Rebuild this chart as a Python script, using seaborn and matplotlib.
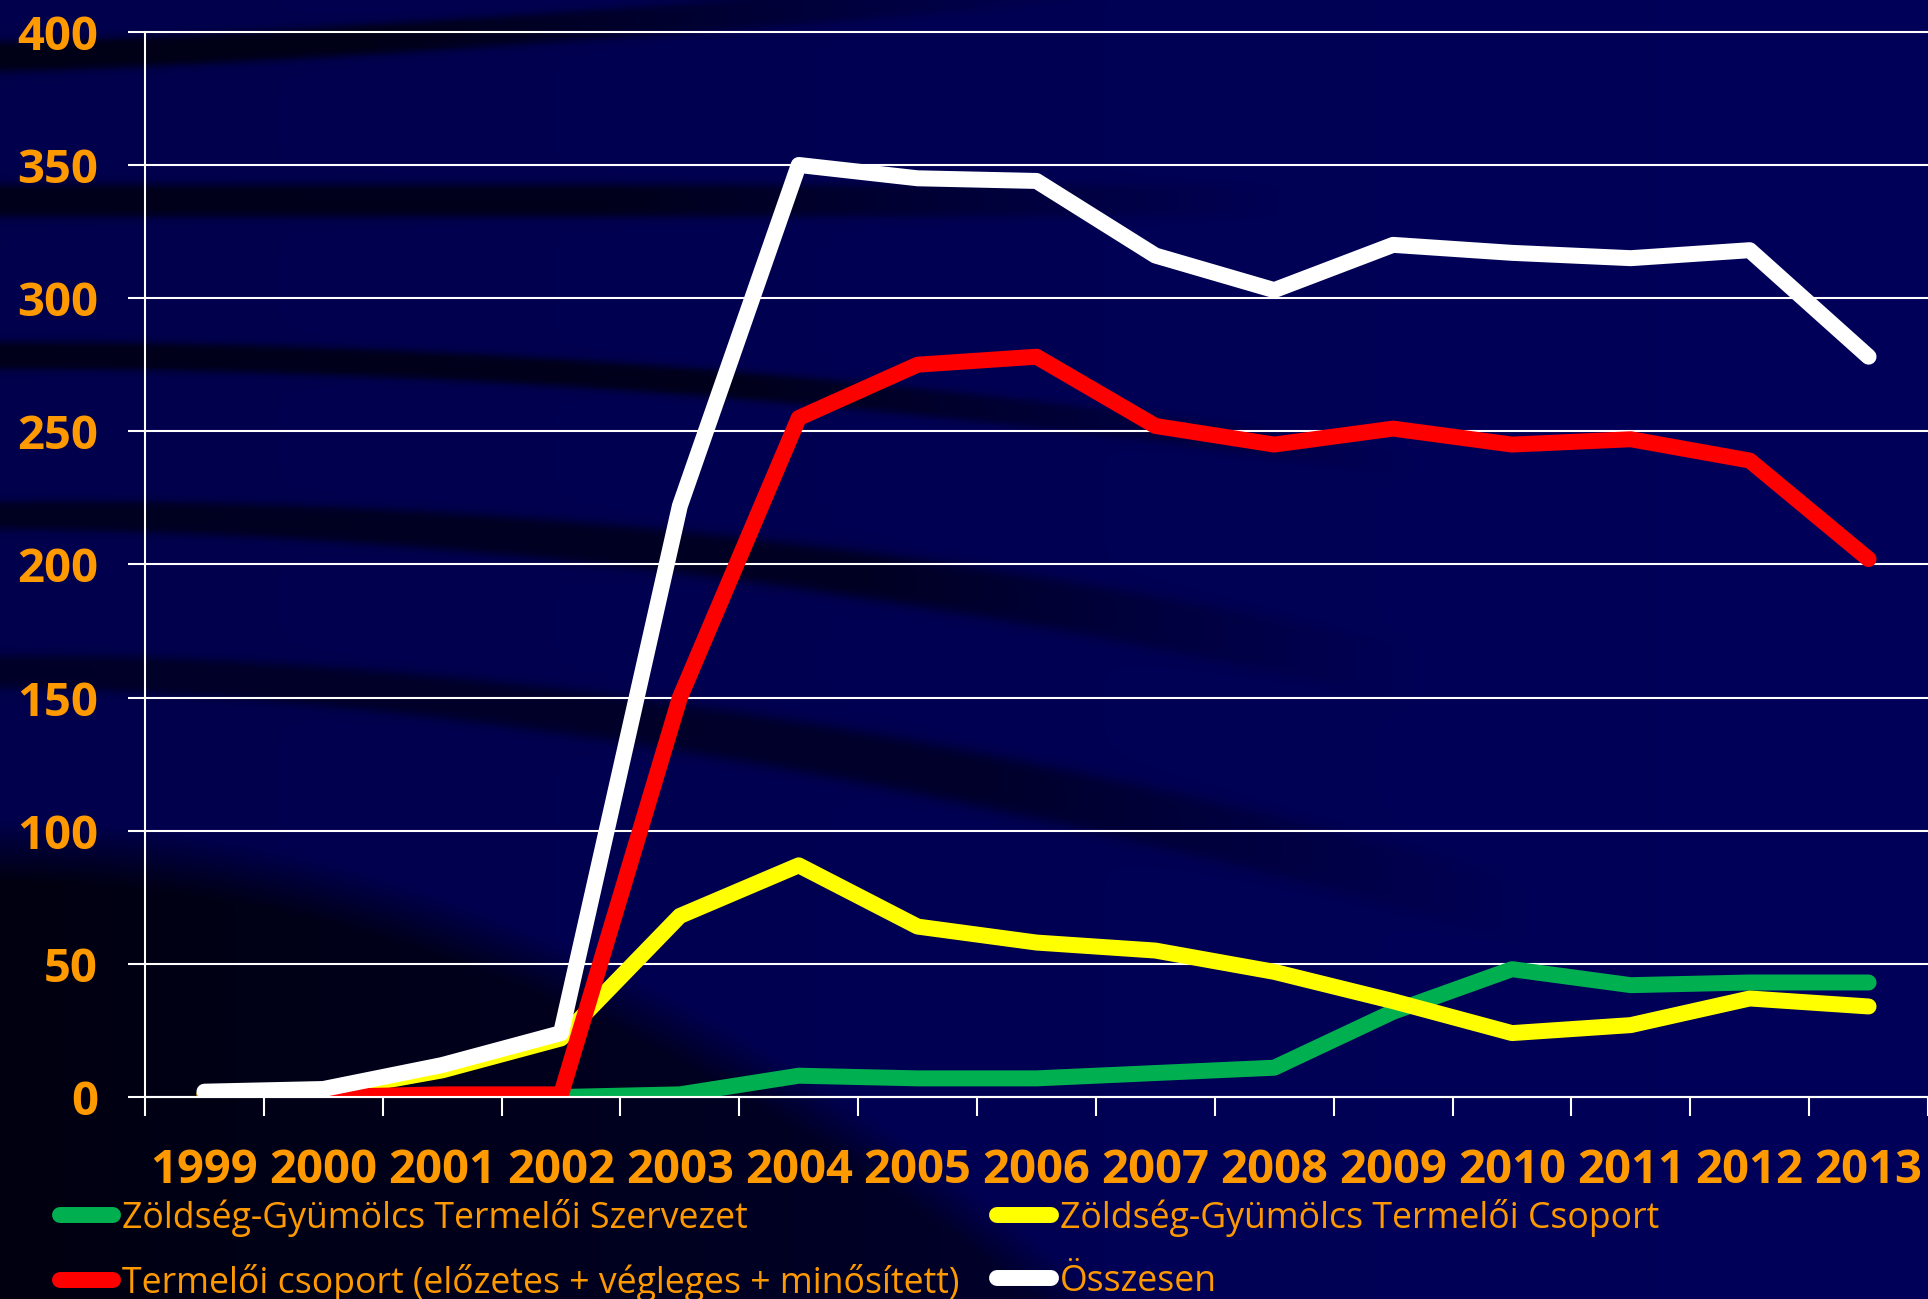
import numpy as np
import pandas as pd
import matplotlib
matplotlib.use("Agg")
import matplotlib.pyplot as plt
import seaborn as sns

# ---------------------------------------------
# DATA
# ---------------------------------------------
years = ["1999", "2000", "2001", "2002", "2003", "2004", "2005", "2006",
         "2007", "2008", "2009", "2010", "2011", "2012", "2013"]

zgy_szervezet    = [0, 0, 0, 0, 1, 8, 7, 7, 9, 11, 32, 48, 42, 43, 43]
zgy_csoport      = [1, 2, 10, 22, 68, 87, 64, 58, 55, 47, 36, 24, 27, 37, 34]
termeloi_csoport = [0, 0, 1, 1, 150, 255, 275, 278, 252, 245, 251, 245, 247, 239, 202]
osszesen         = [2, 3, 12, 24, 222, 350, 345, 344, 316, 303, 320, 317, 315, 318, 278]

series_names = ["Zöldség-Gyümölcs Termelői Szervezet",
                "Zöldség-Gyümölcs Termelői Csoport",
                "Termelői csoport (előzetes + végleges + minősített)",
                "Összesen"]
series_values = [zgy_szervezet, zgy_csoport, termeloi_csoport, osszesen]
series_colors = ["#00B050", "#FFFF00", "#FF0000", "#FFFFFF"]

y_ticks = [0, 50, 100, 150, 200, 250, 300, 350, 400]

BG     = "#00004F"
ORANGE = "#FF9900"

# ---------------------------------------------
# BACKGROUND  (slide-style dark swooshes)
# ---------------------------------------------
def slide_background(w=1568, h=1056, step=4):
    x = np.arange(0, w, step)[None, :].astype(float)
    y = np.arange(0, h, step)[:, None].astype(float)
    dark = np.zeros((y.size, x.size))

    def band(yc, half, x0, x1, k):
        fade = np.clip(1 - (x - x0) / (x1 - x0), 0, 1)
        prof = 1 / (1 + ((y - yc) / half) ** 8)
        return k * prof * fade

    dark = np.maximum(dark, band(44 - 50 * (x / 800) ** 1.3, 12, 300, 900, 0.8))
    dark = np.maximum(dark, band(161 + 0 * x, 13, 500, 1050, 0.75))
    dark = np.maximum(dark, band(287 + 55 * (x / 900) ** 2, 11, 600, 1150, 0.75))
    dark = np.maximum(dark, band(417 + 80 * (x / 900) ** 2, 11 + 10 * x / 900, 700, 1150, 0.65))
    dark = np.maximum(dark, band(544 + 110 * (x / 900) ** 1.8, 13 + 10 * x / 900, 800, 1250, 0.55))

    # large dark arc in the lower left corner
    edge = 665 + 390 * (x / 900) ** 2
    inside = np.clip((y - edge) / 50, 0, 1)
    depth = np.clip(1 - x / 1100, 0, 1)
    dark = np.maximum(dark, inside * (0.45 + 0.45 * depth))

    base = np.array([0, 0, 76]) + np.array([0, 0, 14]) * (x / w)[..., None]
    base = np.broadcast_to(base, (y.size, x.size, 3))
    shade = np.array([0, 0, 10])
    img = base * (1 - dark[..., None]) + shade * dark[..., None]
    return img / 255.0


# ---------------------------------------------
# STYLE
# ---------------------------------------------
sns.set_theme(style="ticks")
plt.rcParams["font.family"] = ["Open Sans", "DejaVu Sans"]

fig = plt.figure(figsize=(19.28, 12.99), dpi=100, facecolor=BG)

bg = fig.add_axes([0, 0, 1, 1], zorder=-5)
bg.imshow(slide_background(), extent=(0, 1568, 1056, 0), aspect="auto",
          interpolation="bilinear")
bg.set_xlim(0, 1568)
bg.set_ylim(1056, 0)
bg.axis("off")

# main axes
ax = fig.add_axes([0.0752, 0.1555, 0.9248, 0.82])
ax.set_facecolor("none")

df = pd.DataFrame({"year": years})
for name, vals, col in zip(series_names, series_values, series_colors):
    df[name] = vals
    sns.lineplot(data=df, x="year", y=name, ax=ax, color=col, linewidth=11.5,
                 label=name, solid_capstyle="round", solid_joinstyle="round",
                 sort=False)

ax.set_xlim(-0.5, len(years) - 0.5)
ax.set_ylim(0, 400)
ax.set_yticks(y_ticks)
ax.set_xticks(range(len(years)))
ax.set_xticklabels(years)
ax.set_xticks(np.arange(-0.5, len(years), 1.0), minor=True)
ax.set_xlabel("")
ax.set_ylabel("")

ax.grid(axis="y", color="white", linewidth=1.5)
for gl in ax.yaxis.get_gridlines():
    gl.set_clip_on(False)
ax.set_axisbelow(True)

for s in ["top", "right"]:
    ax.spines[s].set_visible(False)
for s in ["left", "bottom"]:
    ax.spines[s].set_color("white")
    ax.spines[s].set_linewidth(1.5)

ax.tick_params(axis="y", colors="white", length=12, width=1.5, pad=22,
               labelcolor=ORANGE, labelsize=34)
ax.tick_params(axis="x", which="major", length=0, pad=36,
               labelcolor=ORANGE, labelsize=34)
ax.tick_params(axis="x", which="minor", colors="white", length=14, width=1.5)
for lab in ax.get_xticklabels() + ax.get_yticklabels():
    lab.set_fontweight("bold")

# legend: excel row-major order -> column-major for matplotlib
handles, labels = ax.get_legend_handles_labels()
ax.get_legend().remove()
order = [0, 2, 1, 3]
fig.legend([handles[i] for i in order], [labels[i] for i in order],
           loc="center left", bbox_to_anchor=(0.031, 0.0375), ncol=2,
           frameon=False, fontsize=25.7, labelcolor=ORANGE,
           handlelength=1.5, handletextpad=0.25, columnspacing=1.05,
           labelspacing=0.75, borderpad=0, borderaxespad=0)

fig.savefig("out.png", dpi=100, facecolor=fig.get_facecolor())
